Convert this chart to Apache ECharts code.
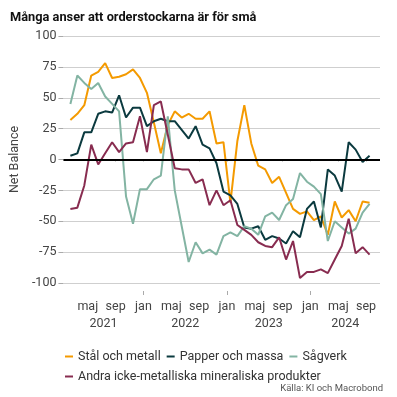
<!DOCTYPE html>
<html><head><meta charset="utf-8">
<script src="https://cdn.jsdelivr.net/npm/echarts@6/dist/echarts.min.js"></script>
<style>html,body{margin:0;padding:0;background:#fff}#c{width:397px;height:397px}</style>
</head><body><div id="c"></div>
<script>
const months = ['2021-02','2021-03','2021-04','2021-05','2021-06','2021-07','2021-08','2021-09','2021-10','2021-11','2021-12',
'2022-01','2022-02','2022-03','2022-04','2022-05','2022-06','2022-07','2022-08','2022-09','2022-10','2022-11','2022-12',
'2023-01','2023-02','2023-03','2023-04','2023-05','2023-06','2023-07','2023-08','2023-09','2023-10','2023-11','2023-12',
'2024-01','2024-02','2024-03','2024-04','2024-05','2024-06','2024-07','2024-08','2024-09'];
const seriesNames = ['Stål och metall','Papper och massa','Sågverk','Andra icke-metalliska mineraliska produkter'];
const stal   = [32,37,44,68,71,78,66,67,69,73,66,54,30,5,28,39,34,37,33,33,39,13,14,-35,15,44,13,-5,-8,-19,-14,-27,-40,-44,-42,-49,-46,-61,-34,-47,-41,-50,-34,-35];
const papper = [3,5,22,22,37,39,38,52,34,42,42,27,31,33,31,31,24,17,27,12,9,-3,-26,-29,-36,-55,-56,-54,-65,-62,-64,-68,-58,-63,-40,-34,-55,-8,-13,-26,14,8,-2,3];
const sag    = [45,68,62,57,62,51,45,39,-30,-52,-24,-24,-16,-13,35,-25,-54,-83,-67,-76,-73,-77,-62,-59,-62,-54,-56,-61,-46,-43,-49,-37,-32,-11,-18,-22,-28,-66,-50,-55,-60,-56,-43,-36];
const andra  = [-40,-39,-21,12,-4,5,14,6,13,14,35,6,44,47,20,-7,-8,-8,-19,-16,-37,-25,-37,-33,-53,-57,-61,-67,-70,-71,-63,-81,-66,-96,-91,-91,-89,-92,-81,-70,-48,-76,-71,-77];
const monthTickNames = {0:'jan',4:'maj',8:'sep'};
const years = [2021,2022,2023,2024];
const colors = ['#F49A00','#0B3A3F','#83B4A3','#882C50'];

const FONT = 'Roboto';
const X_MIN = 0.5, X_MAX = 46;
function monthPos(s){ const p = s.split('-').map(Number); return (p[0]-2021)*12 + (p[1]-1) + 0.5; }
const xs = months.map(monthPos);
const tickVals = []; for (let v = 4; v <= 44; v += 4) tickVals.push(v);
const janVals = tickVals.filter(v => v % 12 === 0);
const yearPos = years.map(y => { const s = Math.max(X_MIN,(y-2021)*12), e = Math.min(X_MAX,(y-2020)*12); return (s+e)/2; });
const all = [stal, papper, sag, andra];

const chart = echarts.init(document.getElementById('c'), null, {renderer:'canvas'});
chart.setOption({
  animation:false,
  textStyle:{fontFamily:FONT},
  title:[
    {text:'Många anser att orderstockarna är för små', left:5, top:6,
     textStyle:{fontFamily:FONT, fontSize:12.8, fontWeight:'bold', color:'#111'}},
    {text:'Källa: KI och Macrobond', right:9, top:379,
     textStyle:{fontFamily:FONT, fontSize:9.5, fontWeight:'normal', color:'#555'}}
  ],
  grid:{left:53, right:17, top:36, bottom:114},
  legend:[
    {data:seriesNames.slice(0,3), left:60, top:345, icon:'rect', itemWidth:8, itemHeight:2, itemGap:6,
     textStyle:{fontFamily:FONT, fontSize:12.5, color:'#333'}},
    {data:[seriesNames[3]], left:60, top:365, icon:'rect', itemWidth:8, itemHeight:2,
     textStyle:{fontFamily:FONT, fontSize:12.5, color:'#333'}}
  ],
  xAxis:[
    {type:'value', min:X_MIN, max:X_MAX, offset:9,
     axisLine:{show:false}, splitLine:{show:false},
     axisTick:{show:true, customValues:tickVals, length:2, lineStyle:{color:'#aaa'}},
     axisLabel:{customValues:tickVals, formatter:v => monthTickNames[v % 12], color:'#444', fontSize:12.5, margin:8, fontFamily:FONT}},
    {type:'value', min:X_MIN, max:X_MAX, offset:28, position:'bottom',
     axisLine:{show:false}, splitLine:{show:false}, axisTick:{show:false},
     axisLabel:{customValues:yearPos, formatter:v => String(2021 + Math.floor(v/12)), color:'#444', fontSize:12.5, margin:6, fontFamily:FONT}},
    {type:'value', min:X_MIN, max:X_MAX, offset:8, position:'bottom',
     axisLine:{show:false}, splitLine:{show:false},
     axisTick:{show:true, customValues:janVals, length:4, lineStyle:{color:'#aaa'}},
     axisLabel:{show:false}}
  ],
  yAxis:{type:'value', min:-100, max:100, interval:25,
    axisLine:{show:false},
    axisTick:{show:true, length:5, lineStyle:{color:'#aaa'}},
    splitLine:{lineStyle:{color:'#cfcfcf', width:1}},
    axisLabel:{color:'#444', fontSize:12.5, margin:7, fontFamily:FONT},
    name:'Net Balance', nameLocation:'middle', nameGap:37,
    nameTextStyle:{color:'#444', fontSize:12.5, fontFamily:FONT}},
  series: all.map((arr, k) => ({
    name: seriesNames[k], type:'line', xAxisIndex:0, showSymbol:false, symbol:'none',
    data: xs.map((x, i) => [x, arr[i]]),
    lineStyle:{color:colors[k], width:2}, itemStyle:{color:colors[k]},
    markLine: k === 0 ? {silent:true, symbol:'none', label:{show:false},
      lineStyle:{color:'#000', width:2, type:'solid'}, data:[{yAxis:0}]} : undefined
  }))
});
</script></body></html>
